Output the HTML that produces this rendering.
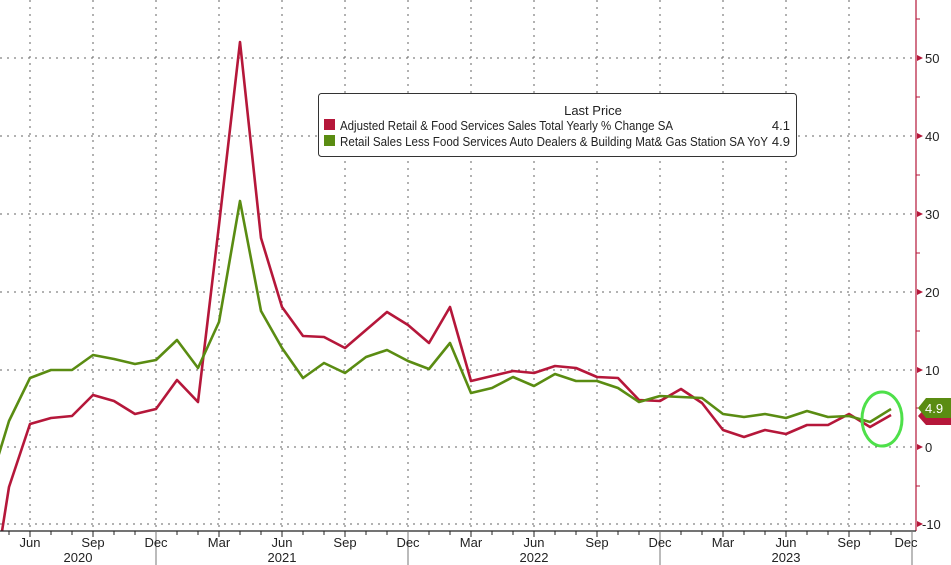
<!DOCTYPE html>
<html><head><meta charset="utf-8"><style>
html,body{margin:0;padding:0;background:#fff;width:951px;height:565px;overflow:hidden;}
svg{display:block;font-family:"Liberation Sans",sans-serif;}
</style></head><body>
<svg width="951" height="565" viewBox="0 0 951 565" xmlns="http://www.w3.org/2000/svg">
<rect width="951" height="565" fill="#fff"/>
<g stroke="#666" stroke-width="1" stroke-dasharray="2,5">
<line x1="0" y1="58" x2="916" y2="58"/><line x1="0" y1="136" x2="916" y2="136"/>
<line x1="0" y1="214" x2="916" y2="214"/><line x1="0" y1="292" x2="916" y2="292"/>
<line x1="0" y1="370" x2="916" y2="370"/><line x1="0" y1="447" x2="916" y2="447"/>
<line x1="0" y1="524" x2="916" y2="524"/>
<line x1="30" y1="0" x2="30" y2="531"/><line x1="93" y1="0" x2="93" y2="531"/>
<line x1="156" y1="0" x2="156" y2="531"/><line x1="219" y1="0" x2="219" y2="531"/>
<line x1="282" y1="0" x2="282" y2="531"/><line x1="345" y1="0" x2="345" y2="531"/>
<line x1="408" y1="0" x2="408" y2="531"/><line x1="471" y1="0" x2="471" y2="531"/>
<line x1="534" y1="0" x2="534" y2="531"/><line x1="597" y1="0" x2="597" y2="531"/>
<line x1="660" y1="0" x2="660" y2="531"/><line x1="723" y1="0" x2="723" y2="531"/>
<line x1="786" y1="0" x2="786" y2="531"/><line x1="849" y1="0" x2="849" y2="531"/>
</g>
<clipPath id="c"><rect x="0" y="0" width="916" height="531"/></clipPath>
<g clip-path="url(#c)" fill="none" stroke-width="2.6" stroke-linejoin="round">
<polyline stroke="#b5173a" points="-12,620 9,487 30,424 51,418 72,416 93,395 114,401 135,414 156,409 177,380 198,402 219,225 240,42 261,238 282,307 303,336 324,337 345,348 366,330 387,312 408,325 429,343 450,307 471,381 492,376 513,371 534,373 555,366 576,368 597,377 618,378 639,400 660,401 681,389 702,403 723,430 744,437 765,430 786,434 807,425 828,425 849,414 870,427 891,415"/>
<polyline stroke="#5a8c12" points="-12,490 9,421 30,378 51,370 72,370 93,355 114,359 135,364 156,360 177,340 198,368 219,322 240,201 261,311 282,348 303,378 324,363 345,373 366,357 387,350 408,361 429,369 450,343 471,393 492,388 513,377 534,386 555,374 576,381 597,381 618,388 639,402 660,396 681,397 702,398 723,414 744,417 765,414 786,418 807,411 828,417 849,416 870,422 891,409"/>
</g>
<ellipse cx="882" cy="419" rx="20" ry="27" fill="none" stroke="#4ee04a" stroke-width="3"/>
<line x1="916" y1="0" x2="916" y2="531" stroke="#b5173a" stroke-width="1.2"/>
<g fill="#b5173a">
<polygon points="917,55 923,58 917,61"/><polygon points="917,133 923,136 917,139"/>
<polygon points="917,211 923,214 917,217"/><polygon points="917,289 923,292 917,295"/>
<polygon points="917,367 923,370 917,373"/><polygon points="917,444 923,447 917,450"/>
<polygon points="917,521 923,524 917,527"/>
</g>
<g stroke="#b5173a"><line x1="916" y1="19" x2="920" y2="19"/><line x1="916" y1="97" x2="920" y2="97"/><line x1="916" y1="175" x2="920" y2="175"/><line x1="916" y1="253" x2="920" y2="253"/><line x1="916" y1="331" x2="920" y2="331"/><line x1="916" y1="408" x2="920" y2="408"/><line x1="916" y1="486" x2="920" y2="486"/></g>
<g font-size="13" fill="#222">
<text x="925" y="63">50</text><text x="925" y="141">40</text><text x="925" y="219">30</text>
<text x="925" y="297">20</text><text x="925" y="375">10</text><text x="925" y="452">0</text>
<text x="922" y="529">-10</text>
</g>
<polygon points="918,416 926,407 951,407 951,425 926,425" fill="#b5173a"/>
<polygon points="918,408 926,398 951,398 951,418 926,418" fill="#5a8c12"/>
<text x="925" y="413" font-size="13" fill="#fff">4.9</text>
<line x1="0" y1="531" x2="916" y2="531" stroke="#222" stroke-width="1.2"/>
<g stroke="#222">
<line x1="9" y1="531" x2="9" y2="535"/><line x1="51" y1="531" x2="51" y2="535"/><line x1="72" y1="531" x2="72" y2="535"/>
<line x1="114" y1="531" x2="114" y2="535"/><line x1="135" y1="531" x2="135" y2="535"/><line x1="177" y1="531" x2="177" y2="535"/>
<line x1="198" y1="531" x2="198" y2="535"/><line x1="240" y1="531" x2="240" y2="535"/><line x1="261" y1="531" x2="261" y2="535"/>
<line x1="303" y1="531" x2="303" y2="535"/><line x1="324" y1="531" x2="324" y2="535"/><line x1="366" y1="531" x2="366" y2="535"/>
<line x1="387" y1="531" x2="387" y2="535"/><line x1="429" y1="531" x2="429" y2="535"/><line x1="450" y1="531" x2="450" y2="535"/>
<line x1="492" y1="531" x2="492" y2="535"/><line x1="513" y1="531" x2="513" y2="535"/><line x1="555" y1="531" x2="555" y2="535"/>
<line x1="576" y1="531" x2="576" y2="535"/><line x1="618" y1="531" x2="618" y2="535"/><line x1="639" y1="531" x2="639" y2="535"/>
<line x1="681" y1="531" x2="681" y2="535"/><line x1="702" y1="531" x2="702" y2="535"/><line x1="744" y1="531" x2="744" y2="535"/>
<line x1="765" y1="531" x2="765" y2="535"/><line x1="807" y1="531" x2="807" y2="535"/><line x1="828" y1="531" x2="828" y2="535"/>
<line x1="870" y1="531" x2="870" y2="535"/><line x1="891" y1="531" x2="891" y2="535"/>
<line x1="30" y1="531" x2="30" y2="537"/><line x1="93" y1="531" x2="93" y2="537"/><line x1="219" y1="531" x2="219" y2="537"/>
<line x1="282" y1="531" x2="282" y2="537"/><line x1="345" y1="531" x2="345" y2="537"/><line x1="471" y1="531" x2="471" y2="537"/>
<line x1="534" y1="531" x2="534" y2="537"/><line x1="597" y1="531" x2="597" y2="537"/><line x1="723" y1="531" x2="723" y2="537"/>
<line x1="786" y1="531" x2="786" y2="537"/><line x1="849" y1="531" x2="849" y2="537"/>
</g>
<g stroke="#777"><line x1="156" y1="531" x2="156" y2="565"/><line x1="408" y1="531" x2="408" y2="565"/><line x1="660" y1="531" x2="660" y2="565"/><line x1="912" y1="531" x2="912" y2="565"/></g>
<g font-size="13" fill="#222" text-anchor="middle">
<text x="30" y="547">Jun</text><text x="93" y="547">Sep</text><text x="156" y="547">Dec</text>
<text x="219" y="547">Mar</text><text x="282" y="547">Jun</text><text x="345" y="547">Sep</text>
<text x="408" y="547">Dec</text><text x="471" y="547">Mar</text><text x="534" y="547">Jun</text>
<text x="597" y="547">Sep</text><text x="660" y="547">Dec</text><text x="723" y="547">Mar</text>
<text x="786" y="547">Jun</text><text x="849" y="547">Sep</text><text x="906" y="547">Dec</text>
<text x="78" y="562">2020</text><text x="282" y="562">2021</text><text x="534" y="562">2022</text><text x="786" y="562">2023</text>
</g>
<rect x="318.5" y="93.5" width="478" height="63" rx="3" fill="#fff" stroke="#333"/>
<text x="593" y="115" font-size="13" fill="#222" text-anchor="middle">Last Price</text>
<rect x="324" y="119" width="11" height="11" fill="#b5173a"/>
<rect x="324" y="135" width="11" height="11" fill="#5a8c12"/>
<text x="340" y="130" font-size="13" fill="#222" textLength="333" lengthAdjust="spacingAndGlyphs">Adjusted Retail &amp; Food Services Sales Total Yearly % Change SA</text>
<text x="340" y="146" font-size="13" fill="#222" textLength="428" lengthAdjust="spacingAndGlyphs">Retail Sales Less Food Services Auto Dealers &amp; Building Mat&amp; Gas Station SA YoY</text>
<text x="790" y="130" font-size="13" fill="#222" text-anchor="end">4.1</text>
<text x="790" y="146" font-size="13" fill="#222" text-anchor="end">4.9</text>
</svg>
</body></html>
